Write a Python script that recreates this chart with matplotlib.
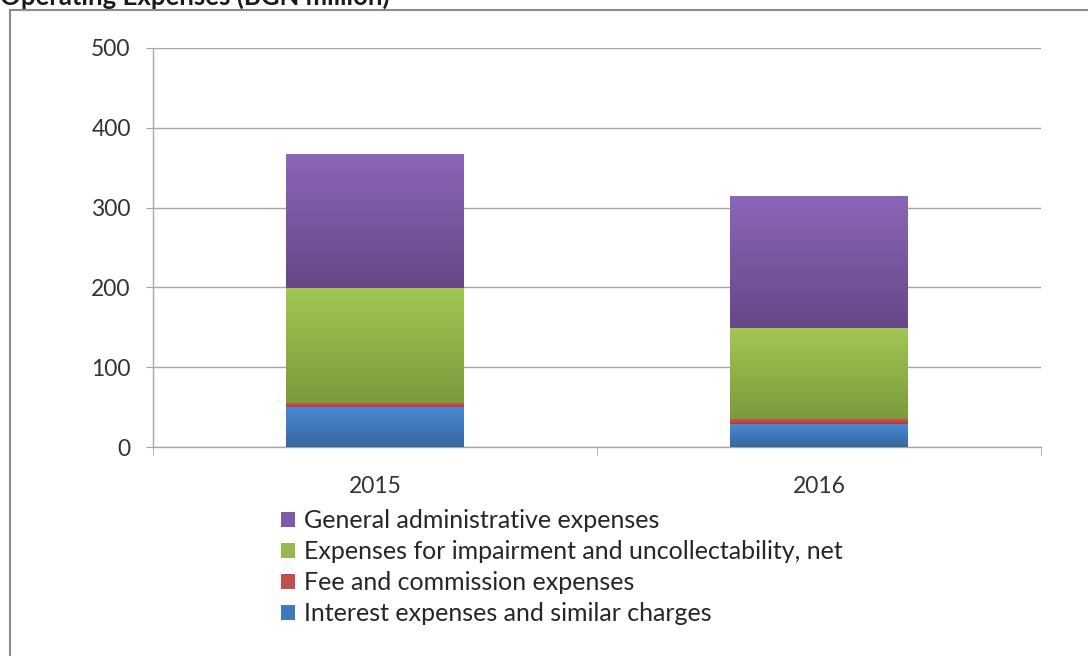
import numpy as np
import matplotlib
matplotlib.use("Agg")
import matplotlib.pyplot as plt
from matplotlib.patches import Rectangle
from matplotlib.colors import LinearSegmentedColormap

years = ["2015", "2016"]
interest = [50, 29]
fee = [5, 6]
impairment = [144, 114]
general = [168, 166]

series_names = [
    "Interest expenses and similar charges",
    "Fee and commission expenses",
    "Expenses for impairment and uncollectability, net",
    "General administrative expenses",
]
series_values = [interest, fee, impairment, general]
# (top colour, bottom colour)
grad_colors = [
    ("#4B8AD6", "#36679F"),
    ("#D0514F", "#A93D3A"),
    ("#A2C755", "#7A9A3B"),
    ("#8C66B8", "#654887"),
]
legend_colors = ["#3E79C0", "#C0504D", "#94BA4E", "#7E5BA6"]

plt.rcParams['font.family'] = ['Lato', 'DejaVu Sans']

fig = plt.figure(figsize=(10.88, 6.56), dpi=100)
W, H = 1088, 656
ax = fig.add_axes([153 / W, 1 - 447 / H, (1041 - 153) / W, (447 - 48) / H])

x = np.arange(len(years))
bottom = np.zeros(len(years))
grad = np.linspace(0, 1, 256).reshape(-1, 1)
handles = []
for name, vals, (ctop, cbot), lc in zip(series_names, series_values, grad_colors, legend_colors):
    bars = ax.bar(x, vals, width=0.4, bottom=bottom, color=lc, edgecolor='none', zorder=2)
    cmap = LinearSegmentedColormap.from_list(name, [cbot, ctop])
    for b in bars:
        x0, y0 = b.get_x(), b.get_y()
        w, h = b.get_width(), b.get_height()
        im = ax.imshow(grad, cmap=cmap, origin='lower', aspect='auto',
                       extent=[x0, x0 + w, y0, y0 + h], zorder=3, interpolation='bilinear')
        im.set_clip_path(b)
    handles.append(bars)
    bottom = bottom + np.array(vals)

ax.set_xlim(-0.5, 1.5)
ax.set_ylim(0, 500)
ax.set_yticks([0, 100, 200, 300, 400, 500])
ax.set_xticks(x)
ax.set_xticklabels(years)
ax.set_xticks([-0.5, 0.5, 1.5], minor=True)
ax.yaxis.grid(True, color='#A6A6A6', linewidth=1.0, zorder=0)
ax.set_axisbelow(True)
for s in ['top', 'right']:
    ax.spines[s].set_visible(False)
for s in ['left', 'bottom']:
    ax.spines[s].set_color('#A6A6A6')
    ax.spines[s].set_linewidth(1.0)
ax.tick_params(axis='y', length=5, color='#A6A6A6', labelsize=16.5, pad=11, labelcolor='#333333')
ax.tick_params(axis='x', which='major', length=0, labelsize=16.5, pad=21, labelcolor='#333333')
ax.tick_params(axis='x', which='minor', length=6, color='#A6A6A6')

leg = fig.legend([h[0] for h in handles[::-1]], series_names[::-1],
                 loc='upper left', bbox_to_anchor=(281 / W, 1 - 509 / H),
                 frameon=False, fontsize=18, handlelength=0.55, handleheight=0.55,
                 handletextpad=0.35, labelspacing=0.32, borderpad=0, borderaxespad=0)
for t in leg.get_texts():
    t.set_color('#262626')

# outer chart border (partially cropped)
fig.patches.append(Rectangle((10 / W, -0.1), 1.5, 1 - 10 / H + 0.1, transform=fig.transFigure,
                             fill=False, edgecolor='#8C8C8C', linewidth=1.5))
fig.text(0.0, 1 - 5 / H, "Operating Expenses (BGN million)", fontsize=18.5, fontweight='bold',
         ha='left', va='baseline', color='#1A1A1A')

fig.savefig("out.png", dpi=100)
